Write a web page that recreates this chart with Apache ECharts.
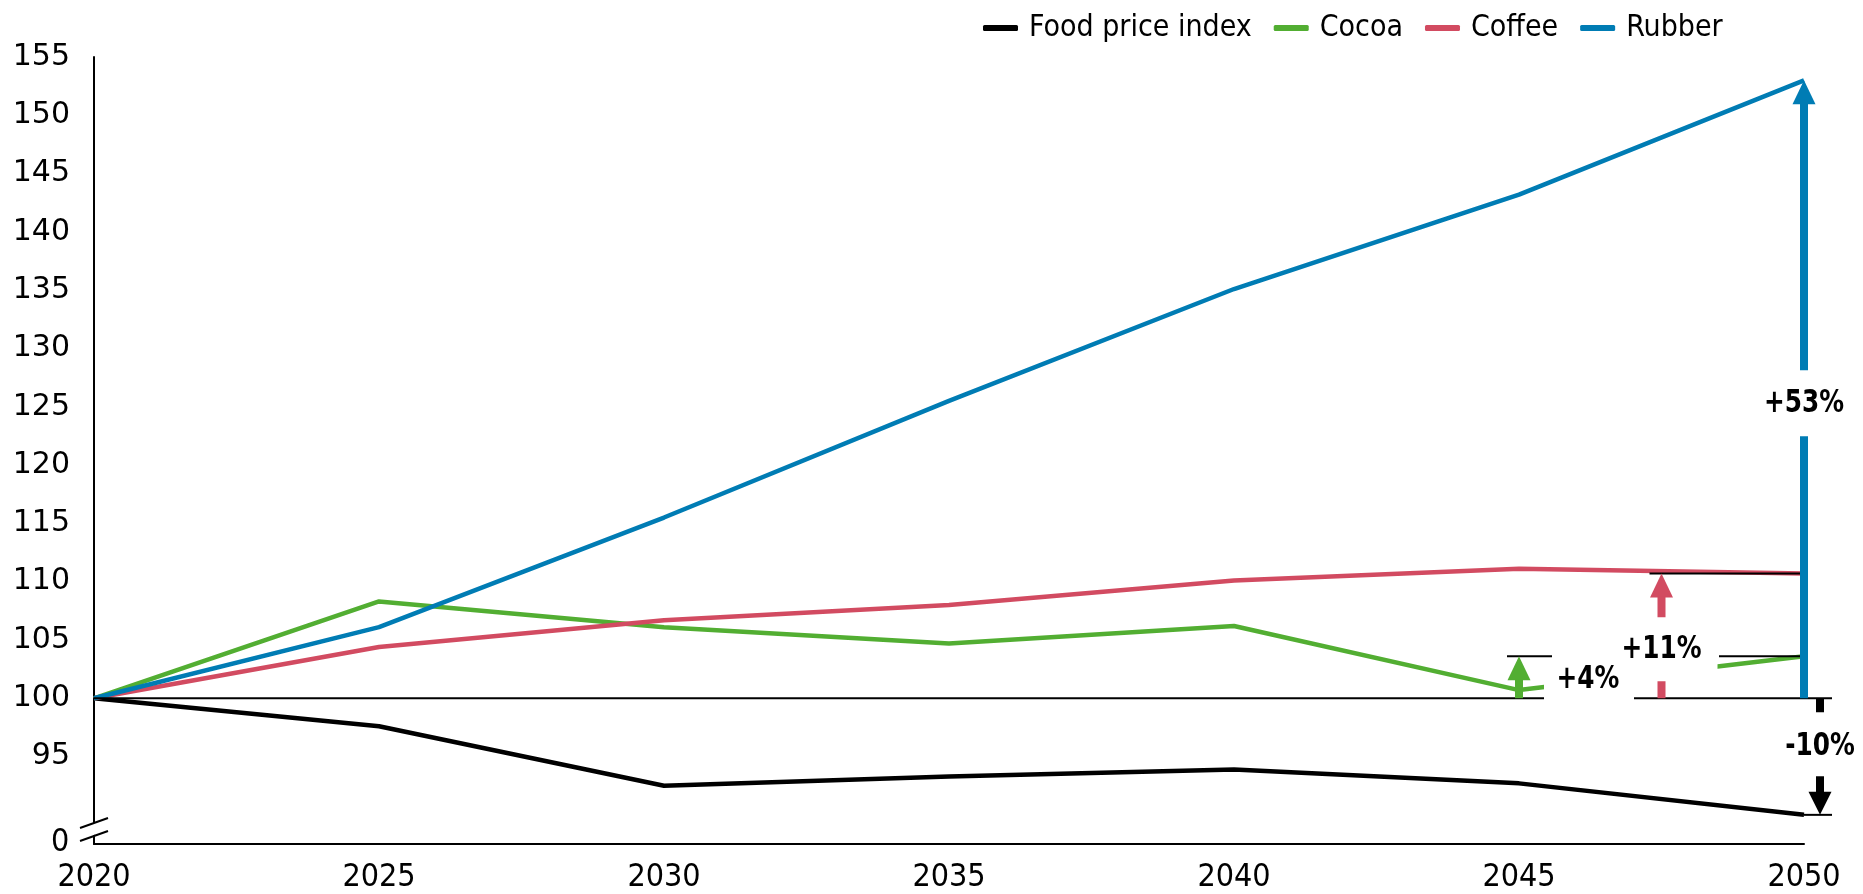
<!DOCTYPE html>
<html><head><meta charset="utf-8">
<script src="https://cdn.jsdelivr.net/npm/echarts@6/dist/echarts.min.js"></script>
<style>html,body{margin:0;padding:0;background:#fff}#c{width:1863px;height:894px}</style>
</head><body><div id="c"></div>
<script>
const years = [2020, 2025, 2030, 2035, 2040, 2045, 2050];
const foodPriceIndex = [100, 97.6, 92.5, 93.3, 93.9, 92.7, 90.0];
const cocoa = [100, 108.3, 106.1, 104.7, 106.2, 100.7, 103.6];
const coffee = [100, 104.4, 106.7, 108.0, 110.1, 111.1, 110.7];
const rubber = [100, 106.1, 115.5, 125.5, 135.1, 143.2, 153.0];
const yTickValues = [95, 100, 105, 110, 115, 120, 125, 130, 135, 140, 145, 150, 155];
const brokenAxisValue = 87.5;   // position drawn as "0" below the axis break
const brokenAxisLabel = '0';
const seriesNames = ['Food price index', 'Cocoa', 'Coffee', 'Rubber'];
const baseValue = 100;
const changeLabels = { rubber: '+53%', coffee: '+11%', cocoa: '+4%', food: '-10%' };
const coffeeArrowYear = 2047.5;
const cocoaArrowYear = 2045;

const colors = ['#000000', '#52AE32', '#D24B61', '#007CB4'];
const seriesData = [foodPriceIndex, cocoa, coffee, rubber];
const COND = '"DejaVu Sans Condensed", "Liberation Sans Narrow", sans-serif';

const chart = echarts.init(document.getElementById('c'), null, { renderer: 'canvas' });
const option = {
  animation: false,
  backgroundColor: '#ffffff',
  grid: { left: 94, right: 59, top: 57, bottom: 49, containLabel: false },
  legend: {
    top: 8, left: 978, itemWidth: 35, itemHeight: 6, itemGap: 22, icon: 'roundRect',
    textStyle: { fontFamily: COND, fontSize: 30, color: '#000', padding: [0, 0, 0, 6] },
    data: seriesNames
  },
  xAxis: {
    type: 'value', min: 2020, max: 2050, interval: 5,
    axisLine: { show: true, lineStyle: { color: '#000', width: 2 } },
    axisTick: { show: false }, splitLine: { show: false },
    axisLabel: { formatter: v => String(v), fontFamily: COND, fontSize: 32, color: '#000', margin: 18 }
  },
  yAxis: {
    type: 'value', min: brokenAxisValue, max: 155,
    axisLine: { show: true, lineStyle: { color: '#000', width: 2 } },
    axisTick: { show: false }, splitLine: { show: false },
    axisLabel: {
      customValues: yTickValues,
      formatter: v => String(v),
      fontFamily: '"DejaVu Sans", Verdana, sans-serif', fontSize: 30, color: '#000', margin: 24
    }
  },
  series: seriesNames.map((name, k) => ({
    name, type: 'line', showSymbol: false, symbol: 'none',
    data: years.map((y, i) => [y, seriesData[k][i]]),
    lineStyle: { color: colors[k], width: 4.5 },
    itemStyle: { color: colors[k] },
    z: 2
  }))
};
chart.setOption(option);

function P(x, y) { return chart.convertToPixel({ xAxisIndex: 0, yAxisIndex: 0 }, [x, y]); }
const g = [];
function line(x1, y1, x2, y2, color, w, z) {
  g.push({ type: 'line', z, shape: { x1, y1, x2, y2 }, style: { stroke: color, lineWidth: w } });
}
function rect(x, y, w, h, color, z) {
  g.push({ type: 'rect', z, shape: { x, y, width: w, height: h }, style: { fill: color } });
}
function poly(points, color, z) {
  g.push({ type: 'polygon', z, shape: { points }, style: { fill: color } });
}
function label(text, x, y, z) {
  g.push({ type: 'text', z, x, y, scaleX: 0.86, style: { text, fill: '#000', fontFamily: COND, fontWeight: 'bold', fontSize: 32, align: 'center', verticalAlign: 'middle' } });
}
function arrowUp(x, yBase, yTip, color, z) {
  const hh = 24, hw = 11.5;
  poly([[x - hw, yTip + hh], [x + hw, yTip + hh], [x, yTip]], color, z);
  rect(x - 4, yTip + hh - 1, 8, yBase - (yTip + hh - 1), color, z);
}

const grid0 = P(2020, brokenAxisValue);
const gl = grid0[0], gb = grid0[1];
const x2050 = P(2050, baseValue)[0];
const y100 = P(2050, baseValue)[1];

// "0" label below the axis break
g.push({ type: 'text', z: 12, x: gl - 43, y: gb - 1, style: { text: brokenAxisLabel, fill: '#000', fontFamily: COND, fontSize: 32, align: 'left', verticalAlign: 'middle' } });

// baseline at 100
line(gl, y100, x2050 + 28, y100, '#000', 2, 3);

// Rubber
const yR = P(2050, rubber[6])[1];
arrowUp(x2050, y100, yR, colors[3], 5);
const yRl = P(2050, 125.3)[1];
rect(x2050 - 46, yRl - 33, 92, 66, '#fff', 8);
label(changeLabels.rubber, x2050, yRl, 9);

// Coffee
const xC = P(coffeeArrowYear, baseValue)[0];
const yC = P(2050, coffee[6])[1];
line(xC - 12, yC, x2050, yC, '#000', 2, 4);
arrowUp(xC, y100, yC, colors[2], 5);
const yCl = P(2050, 104.2)[1];
rect(xC - 44, yCl - 32, 100, 64, '#fff', 8);
label(changeLabels.coffee, xC, yCl, 9);

// Cocoa
const xK = P(cocoaArrowYear, baseValue)[0];
const yK = P(2050, cocoa[6])[1];
line(xK - 12, yK, xK + 33, yK, '#000', 2, 4);
line(x2050 - 85, yK, x2050, yK, '#000', 2, 4);
arrowUp(xK, y100, yK, colors[1], 5);
const yKl = P(2050, 101.6)[1];
rect(xK + 25, yKl - 21, 90, 43, '#fff', 8);
label(changeLabels.cocoa, xK + 69, yKl, 9);

// Food price index
const yF = P(2050, foodPriceIndex[6])[1];
const xF = x2050 + 16;
line(x2050, yF, x2050 + 28, yF, '#000', 2, 4);
rect(xF - 4, y100, 8, 14, '#000', 5);
label(changeLabels.food, xF, y100 + 48, 9);
poly([[xF - 11.5, yF - 23], [xF + 11.5, yF - 23], [xF, yF]], '#000', 5);
rect(xF - 4, y100 + 78, 8, (yF - 22) - (y100 + 78), '#000', 5);

// axis break marks
poly([[gl - 6, gb - 19], [gl + 6, gb - 23], [gl + 6, gb - 11], [gl - 6, gb - 7]], '#fff', 10);
line(gl - 14, gb - 16, gl + 14, gb - 26, '#000', 2, 11);
line(gl - 14, gb - 3, gl + 14, gb - 13, '#000', 2, 11);

chart.setOption({ graphic: { elements: g } });
</script>
</body></html>
